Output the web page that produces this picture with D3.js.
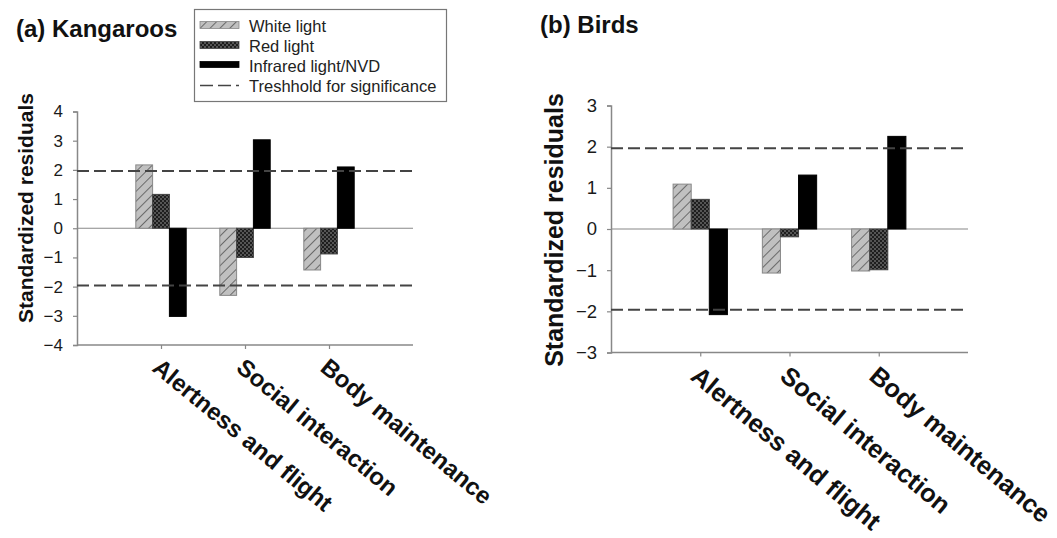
<!DOCTYPE html>
<html>
<head>
<meta charset="utf-8">
<script src="https://cdn.jsdelivr.net/npm/d3@7"></script>
<style>
  html, body { margin: 0; padding: 0; background: #fff; }
  svg { display: block; font-family: "Liberation Sans", Arial, sans-serif; }
</style>
</head>
<body>
<svg id="chart" width="1057" height="538"></svg>
<script>
// ---- data ----
const categories = ["Alertness and flight", "Social interaction", "Body maintenance"];
const seriesNames = ["White light", "Red light", "Infrared light/NVD"];
const thresholdLabel = "Treshhold for significance";
const threshold = 1.96;

const kangarooWhite = [2.17, -2.3, -1.43];
const kangarooRed = [1.16, -1.0, -0.88];
const kangarooIR = [-3.02, 3.03, 2.1];
const kangarooTicks = [4, 3, 2, 1, 0, -1, -2, -3, -4];

const birdWhite = [1.09, -1.07, -1.02];
const birdRed = [0.72, -0.19, -0.99];
const birdIR = [-2.08, 1.31, 2.25];
const birdTicks = [3, 2, 1, 0, -1, -2, -3];

const panelTitles = ["(a) Kangaroos", "(b) Birds"];
const yTitle = "Standardized residuals";

// ---- setup ----
const svg = d3.select("#chart");
const defs = svg.append("defs");

// hatch pattern for white light
const hatch = defs.append("pattern")
  .attr("id", "hatch").attr("patternUnits", "userSpaceOnUse")
  .attr("width", 7).attr("height", 7)
  .attr("patternTransform", "rotate(45)");
hatch.append("rect").attr("width", 7).attr("height", 7).attr("fill", "#c0c0c0");
hatch.append("line").attr("x1", 0).attr("y1", 0).attr("x2", 0).attr("y2", 7)
  .attr("stroke", "#444").attr("stroke-width", 1.4);

// checker pattern for red light
const checker = defs.append("pattern")
  .attr("id", "checker").attr("patternUnits", "userSpaceOnUse")
  .attr("width", 4).attr("height", 4);
checker.append("rect").attr("width", 4).attr("height", 4).attr("fill", "#555");
checker.append("rect").attr("width", 2).attr("height", 2).attr("fill", "#1e1e1e");
checker.append("rect").attr("x", 2).attr("y", 2).attr("width", 2).attr("height", 2).attr("fill", "#1e1e1e");

const fills = { "White light": "url(#hatch)", "Red light": "url(#checker)", "Infrared light/NVD": "#000" };
const strokes = { "White light": "#888", "Red light": "#444", "Infrared light/NVD": "#000" };

function drawPanel(cfg) {
  const g = svg.append("g");
  const x = d3.scalePoint().domain(categories).range([cfg.x0, cfg.x1]).padding(1);
  const y = d3.scaleLinear().domain([cfg.ticks[cfg.ticks.length - 1], cfg.ticks[0]]).range([cfg.yBottom, cfg.yTop]);
  const inner = d3.scaleBand().domain(seriesNames).range([-cfg.groupW / 2, cfg.groupW / 2]).padding(0);

  // title
  g.append("text").attr("x", cfg.titleX).attr("y", cfg.titleY)
    .attr("font-size", cfg.titleSize).attr("font-weight", "bold").attr("fill", "#111")
    .text(cfg.title);

  // y axis
  const yAxis = d3.axisLeft(y).tickValues(cfg.ticks).tickSize(4).tickPadding(10).tickFormat(d3.format("d"));
  const ya = g.append("g").attr("transform", `translate(${cfg.x0},0)`).call(yAxis);
  ya.select(".domain").attr("stroke", "#888").attr("stroke-width", 1.5);
  ya.selectAll(".tick line").attr("stroke", "#888").attr("stroke-width", 1.2);
  ya.selectAll(".tick text").attr("font-size", cfg.tickSize).attr("fill", "#1a1a1a")
    .attr("font-family", "Liberation Sans, Arial, sans-serif");

  // y title
  g.append("text")
    .attr("transform", `translate(${cfg.yTitleX},${cfg.yTitleY}) rotate(-90)`)
    .attr("text-anchor", "middle").attr("font-size", cfg.yTitleSize).attr("font-weight", "bold")
    .attr("fill", "#111").text(yTitle);

  // x axis at bottom
  const xAxis = d3.axisBottom(x).tickSize(4).tickFormat("");
  const xa = g.append("g").attr("transform", `translate(0,${cfg.yBottom})`).call(xAxis);
  xa.select(".domain").attr("stroke", "#888").attr("stroke-width", 1.5).attr("d", `M${cfg.x0},0H${cfg.x1}`);
  xa.selectAll(".tick line").attr("stroke", "#888").attr("stroke-width", 1.2);

  // category labels
  g.selectAll("text.cat").data(categories).join("text")
    .attr("class", "cat")
    .attr("transform", d => `translate(${x(d) + cfg.labDx},${cfg.yBottom + cfg.labDy}) rotate(${cfg.labAngle})`)
    .attr("font-size", cfg.labSize).attr("font-weight", "bold").attr("fill", "#111")
    .text(d => d);

  // zero line
  g.append("line").attr("x1", cfg.x0).attr("x2", cfg.x1).attr("y1", y(0)).attr("y2", y(0))
    .attr("stroke", "#888").attr("stroke-width", 1.2);

  // bars
  const seriesVals = { "White light": cfg.white, "Red light": cfg.red, "Infrared light/NVD": cfg.ir };
  seriesNames.forEach(s => {
    g.selectAll(null).data(categories.map((c, i) => ({ c, v: seriesVals[s][i] }))).join("rect")
      .attr("x", d => x(d.c) + inner(s))
      .attr("width", inner.bandwidth())
      .attr("y", d => y(Math.max(0, d.v)))
      .attr("height", d => Math.abs(y(d.v) - y(0)))
      .attr("fill", fills[s]).attr("stroke", strokes[s]).attr("stroke-width", 1);
  });

  // threshold lines
  [threshold, -threshold].forEach(t => {
    g.append("line").attr("x1", cfg.x0).attr("x2", cfg.x1).attr("y1", y(t)).attr("y2", y(t))
      .attr("stroke", "#444").attr("stroke-width", 2).attr("stroke-dasharray", "12,5");
  });
}

drawPanel({
  title: panelTitles[0], titleX: 16, titleY: 37, titleSize: 24,
  x0: 77, x1: 413, yTop: 111.5, yBottom: 345, groupW: 50.4,
  ticks: kangarooTicks, tickSize: 17,
  yTitleX: 33, yTitleY: 208, yTitleSize: 21,
  white: kangarooWhite, red: kangarooRed, ir: kangarooIR,
  labDx: -10, labDy: 25, labAngle: 39.5, labSize: 24
});

drawPanel({
  title: panelTitles[1], titleX: 540, titleY: 33, titleSize: 24,
  x0: 611, x1: 968, yTop: 105.5, yBottom: 352.5, groupW: 54.3,
  ticks: birdTicks, tickSize: 18.5,
  yTitleX: 563, yTitleY: 230, yTitleSize: 25,
  white: birdWhite, red: birdRed, ir: birdIR,
  labDx: -11, labDy: 26, labAngle: 40, labSize: 25.5
});

// ---- legend ----
const lg = svg.append("g");
lg.append("rect").attr("x", 194.5).attr("y", 9.5).attr("width", 252).attr("height", 92)
  .attr("fill", "#fff").attr("stroke", "#777").attr("stroke-width", 1.2);
const legendItems = seriesNames.concat([thresholdLabel]);
const ly = d3.scalePoint().domain(legendItems).range([31.5, 91.5]);
legendItems.forEach((name, i) => {
  const base = ly(name);
  if (i < 3) {
    lg.append("rect").attr("x", 200).attr("y", base - 10).attr("width", 39).attr("height", i === 2 ? 6 : 7)
      .attr("fill", fills[name]).attr("stroke", strokes[name]).attr("stroke-width", 0.8);
  } else {
    lg.append("line").attr("x1", 200).attr("x2", 239).attr("y1", base - 6).attr("y2", base - 6)
      .attr("stroke", "#444").attr("stroke-width", 1.5).attr("stroke-dasharray", "13,5");
  }
  lg.append("text").attr("x", 249).attr("y", base).attr("font-size", 16.5).attr("fill", "#222").text(name);
});
</script>
</body>
</html>
